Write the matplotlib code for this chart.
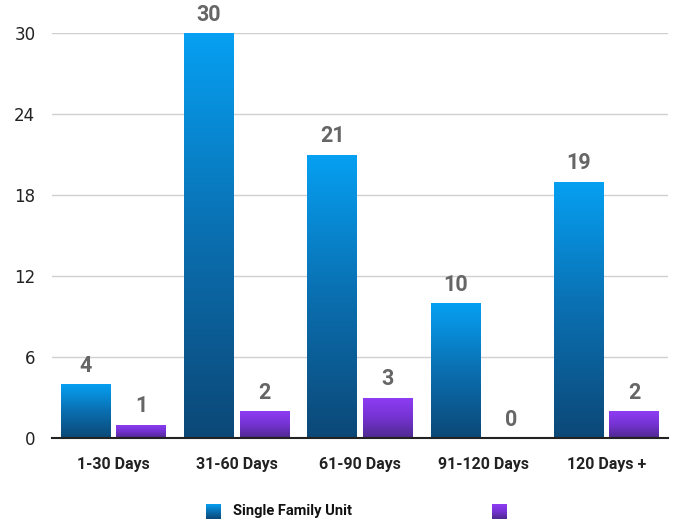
import numpy as np
import matplotlib
matplotlib.use("Agg")
import matplotlib.pyplot as plt
from matplotlib.colors import LinearSegmentedColormap

categories = ["1-30 Days", "31-60 Days", "61-90 Days", "91-120 Days", "120 Days +"]
single_family = [4, 30, 21, 10, 19]
other_units = [1, 2, 3, 0, 2]
series_names = ["Single Family Unit", ""]
yticks = [0, 6, 12, 18, 24, 30]

blue_cmap = LinearSegmentedColormap.from_list("b", ["#0c4877", "#0a6fb0", "#06a0f2"])
purple_cmap = LinearSegmentedColormap.from_list("p", ["#4e2a8e", "#7533d2", "#8e3cf4"])

fig = plt.figure(figsize=(6.81, 5.24), dpi=100)
ax = fig.add_axes([52/681, 86/524, 616/681, 405/524])

x = np.arange(len(categories))
w = 0.405
off = 0.225
grad = np.linspace(0, 1, 256).reshape(-1, 1)

def grad_bars(xpos, vals, cmap):
    bars = ax.bar(xpos, vals, w, color="none", edgecolor="none", zorder=3)
    for b in bars:
        h = b.get_height()
        if h <= 0:
            continue
        x0 = b.get_x()
        im = ax.imshow(grad, cmap=cmap, origin="lower", aspect="auto",
                       extent=[x0, x0 + b.get_width(), 0, h], zorder=3)
        im.set_clip_path(b)
    for b, v in zip(bars, vals):
        ax.text(b.get_x() + b.get_width()/2, b.get_height() + 0.55, str(v),
                ha="center", va="bottom", fontsize=15.5, fontweight="bold",
                color="#666666", family="Roboto", clip_on=False, zorder=5)
    return bars

grad_bars(x - off, single_family, blue_cmap)
grad_bars(x + off, other_units, purple_cmap)

ax.set_xlim(-0.5, len(categories) - 0.5)
ax.set_ylim(0, 30)
ax.set_yticks(yticks)
ax.set_yticklabels([str(t) for t in yticks], fontsize=12, color="#222222")
ax.set_xticks(x)
ax.set_xticklabels(categories, fontsize=11.5, fontweight="bold", color="#222222", family="Roboto")
ax.tick_params(axis="both", length=0)
ax.tick_params(axis="y", pad=12)
ax.tick_params(axis="x", pad=14)
ax.grid(axis="y", color="#d0d0d0", linewidth=1, zorder=0)
for s in ["top", "right", "left"]:
    ax.spines[s].set_visible(False)
ax.spines["bottom"].set_color("#222222")
ax.spines["bottom"].set_linewidth(1.5)
ax.spines["bottom"].set_zorder(4)

# legend
def legend_square(px, cmap):
    lax = fig.add_axes([px/681, (524-519)/524, 15/681, 15/524])
    lax.imshow(grad, cmap=cmap, origin="lower", aspect="auto")
    lax.axis("off")

legend_square(206, blue_cmap)
fig.text(233/681, (524-511)/524, series_names[0], fontsize=10.5, fontweight="bold",
         color="#111111", family="Roboto", va="center", ha="left")
legend_square(492, purple_cmap)
fig.text(517/681, (524-511)/524, series_names[1], fontsize=10.5, fontweight="bold",
         color="#111111", family="Roboto", va="center", ha="left")

fig.savefig("out.png", dpi=100)
